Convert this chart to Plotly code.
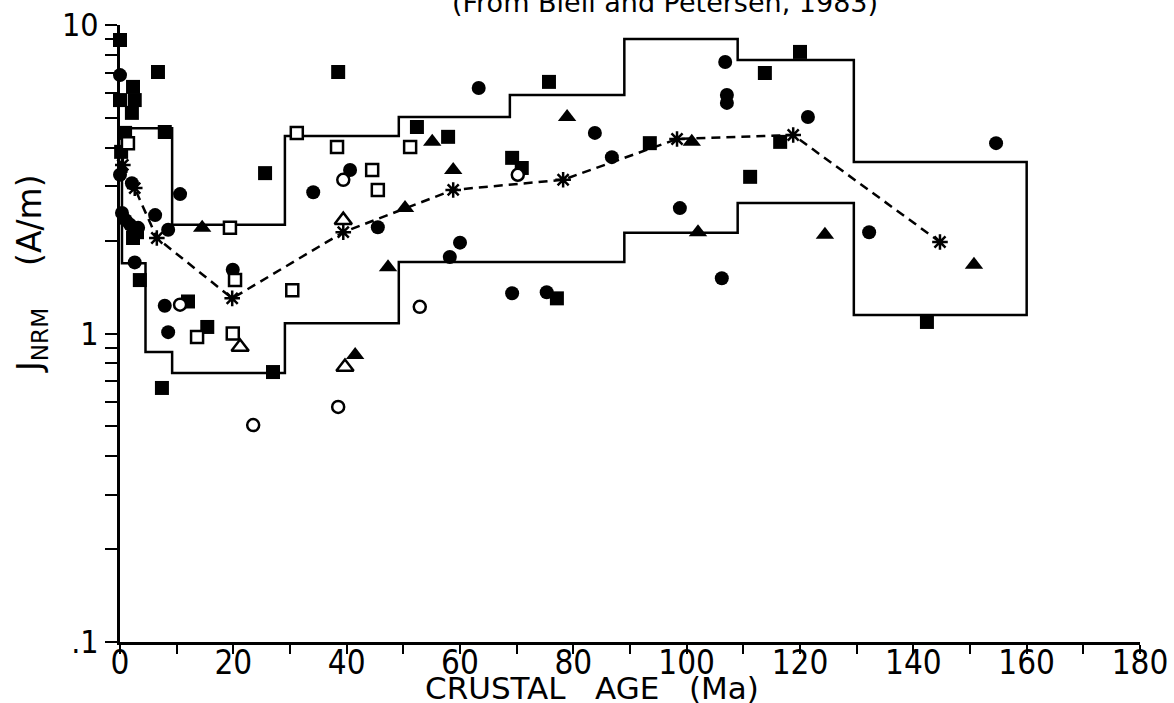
import plotly.graph_objects as go

# ---- data (crustal age in Ma, J_NRM in A/m) ----
sq_f_x = [0.0, 6.7, 2.3, 0.0, 2.6, 2.1, 0.9, 0.2, 7.9, 25.6, 3.0, 2.3, 3.5, 12.0, 15.4, 27.0, 7.4,
          38.5, 52.4, 57.9, 69.2, 70.9, 77.1, 75.7, 93.5, 111.2, 113.8, 120.0, 116.5, 142.4]
sq_f_y = [8.94, 7.04, 6.30, 5.71, 5.71, 5.19, 4.47, 3.88, 4.50, 3.31, 2.13, 2.04, 1.49, 1.27, 1.05, 0.750, 0.666,
          7.04, 4.67, 4.34, 3.71, 3.44, 1.30, 6.54, 4.14, 3.22, 6.99, 8.18, 4.18, 1.09]

ci_f_x = [0.0, 0.0, 2.1, 10.6, 0.35, 1.0, 6.2, 8.5, 2.6, 1.8, 3.2, 7.9, 8.5, 19.9, 34.1, 40.6, 45.5, 60.0, 58.2,
          63.3, 69.2, 75.3, 83.8, 86.8, 98.8, 106.2, 106.8, 107.1, 107.1, 121.4, 132.2, 154.6]
ci_f_y = [6.88, 3.27, 3.07, 2.83, 2.46, 2.33, 2.42, 2.17, 1.70, 2.25, 2.20, 1.23, 1.01, 1.61, 2.87, 3.39, 2.21, 1.97, 1.77,
          6.25, 1.35, 1.36, 4.47, 3.73, 2.55, 1.51, 7.59, 5.93, 5.59, 5.03, 2.13, 4.14]

tr_f_x = [14.5, 41.5, 47.3, 50.3, 55.1, 58.8, 78.9, 100.9, 102.0, 124.4, 150.7]
tr_f_y = [2.20, 0.852, 1.64, 2.55, 4.18, 3.39, 5.03, 4.18, 2.13, 2.09, 1.67]

sq_o_x = [1.4, 19.4, 20.3, 13.6, 19.9, 30.4, 31.2, 38.3, 44.5, 45.5, 51.2]
sq_o_y = [4.14, 2.20, 1.49, 0.974, 1.00, 1.38, 4.47, 4.02, 3.39, 2.92, 4.02]

ci_o_x = [10.6, 39.4, 70.2, 52.9, 23.5, 38.5]
ci_o_y = [1.24, 3.15, 3.27, 1.22, 0.505, 0.578]

tr_o_x = [21.2, 39.4, 39.7]
tr_o_y = [0.904, 2.33, 0.779]

mean_x = [0.5, 2.6, 6.5, 19.8, 39.4, 58.8, 78.2, 98.3, 118.8, 144.7]
mean_y = [3.52, 2.96, 2.04, 1.30, 2.13, 2.92, 3.15, 4.27, 4.40, 1.98]

bin_edges = [0.35, 4.5, 9.2, 29.1, 49.2, 68.8, 89.0, 109.0, 129.5, 160.0]
upper_lvl = [4.63, 4.63, 2.25, 4.37, 5.03, 5.93, 9.01, 7.70, 3.60]
lower_lvl = [1.69, 0.871, 0.744, 1.08, 1.705, 1.705, 2.12, 2.65, 1.148]

y_tick_vals = [0.1, 0.2, 0.3, 0.4, 0.5, 0.6, 0.7, 0.8, 0.9,
               1, 2, 3, 4, 5, 6, 7, 8, 9, 10]
y_tick_text = ['.1', '', '', '', '', '', '', '', '',
               '1', '', '', '', '', '', '', '', '', '10']
x_tick_vals = list(range(0, 181, 10))
x_tick_text = [str(v) if v % 20 == 0 else '' for v in x_tick_vals]

NARROW = "Liberation Sans Narrow, DejaVu Sans Condensed, Arial Narrow, sans-serif"
WIDE = "DejaVu Sans, Verdana, sans-serif"

# envelope polygon built from bins
env_x, env_y = [], []
for i in range(len(upper_lvl)):
    env_x += [bin_edges[i], bin_edges[i + 1]]
    env_y += [upper_lvl[i], upper_lvl[i]]
for i in reversed(range(len(lower_lvl))):
    env_x += [bin_edges[i + 1], bin_edges[i]]
    env_y += [lower_lvl[i], lower_lvl[i]]
env_x.append(env_x[0])
env_y.append(env_y[0])

fig = go.Figure()
fig.add_trace(go.Scatter(x=env_x, y=env_y, mode='lines',
                         line=dict(color='black', width=2.5), cliponaxis=False))
fig.add_trace(go.Scatter(x=mean_x, y=mean_y, mode='lines+markers',
                         line=dict(color='black', width=2.5, dash='9px,6px'),
                         marker=dict(symbol='asterisk-open', size=13, color='black',
                                     line=dict(color='black', width=2.5)),
                         cliponaxis=False))


def pts(x, y, sym, size, fill='black', lw=0):
    return go.Scatter(x=x, y=y, mode='markers', cliponaxis=False,
                      marker=dict(symbol=sym, size=size, color=fill,
                                  line=dict(color='black', width=lw)))


fig.add_trace(pts(sq_f_x, sq_f_y, 'square', 14))
fig.add_trace(pts(ci_f_x, ci_f_y, 'circle', 14))
fig.add_trace(pts(tr_f_x, tr_f_y, 'triangle-up', 16))
fig.add_trace(pts(sq_o_x, sq_o_y, 'square', 12, 'white', 2.5))
fig.add_trace(pts(ci_o_x, ci_o_y, 'circle', 12, 'white', 2.5))
fig.add_trace(pts(tr_o_x, tr_o_y, 'triangle-up', 15, 'white', 2.5))

fig.update_layout(
    width=1174, height=703,
    margin=dict(l=120, r=34, t=25, b=61, autoexpand=False),
    paper_bgcolor='white', plot_bgcolor='white',
    showlegend=False,
    font=dict(family=NARROW, color='black', size=30),
    xaxis=dict(range=[0, 180], showgrid=False, zeroline=False, showline=True, automargin=False,
               linecolor='black', linewidth=3, ticks='outside', ticklen=9, tickwidth=2,
               tickcolor='black', tickvals=x_tick_vals, ticktext=x_tick_text,
               ticklabelstandoff=-20,
               tickfont=dict(size=33, family=NARROW)),
    yaxis=dict(type='log', range=[-1, 1], showgrid=False, zeroline=False, showline=True, automargin=False,
               linecolor='black', linewidth=3, ticks='outside', ticklen=12, tickwidth=2,
               tickcolor='black', tickvals=y_tick_vals, ticktext=y_tick_text,
               tickfont=dict(size=32, family=NARROW)),
    annotations=[
        dict(text='CRUSTAL   AGE   (Ma)', xref='paper', yref='paper', x=0.463, y=-0.075,
             xanchor='center', yanchor='middle',
             showarrow=False, font=dict(size=31, family=WIDE)),
        dict(text='J<sub>NRM</sub>    (A/m)', xref='paper', yref='paper', x=-0.087, y=0.597,
             xanchor='center', yanchor='middle',
             textangle=-90, showarrow=False, font=dict(size=33, family=WIDE)),
        dict(text='(From Bleil and Petersen, 1983)', xref='paper', yref='paper', x=0.534, y=1.037,
             xanchor='center', yanchor='middle',
             showarrow=False, font=dict(size=27, family=WIDE)),
    ],
)

fig.write_html("out.html")
